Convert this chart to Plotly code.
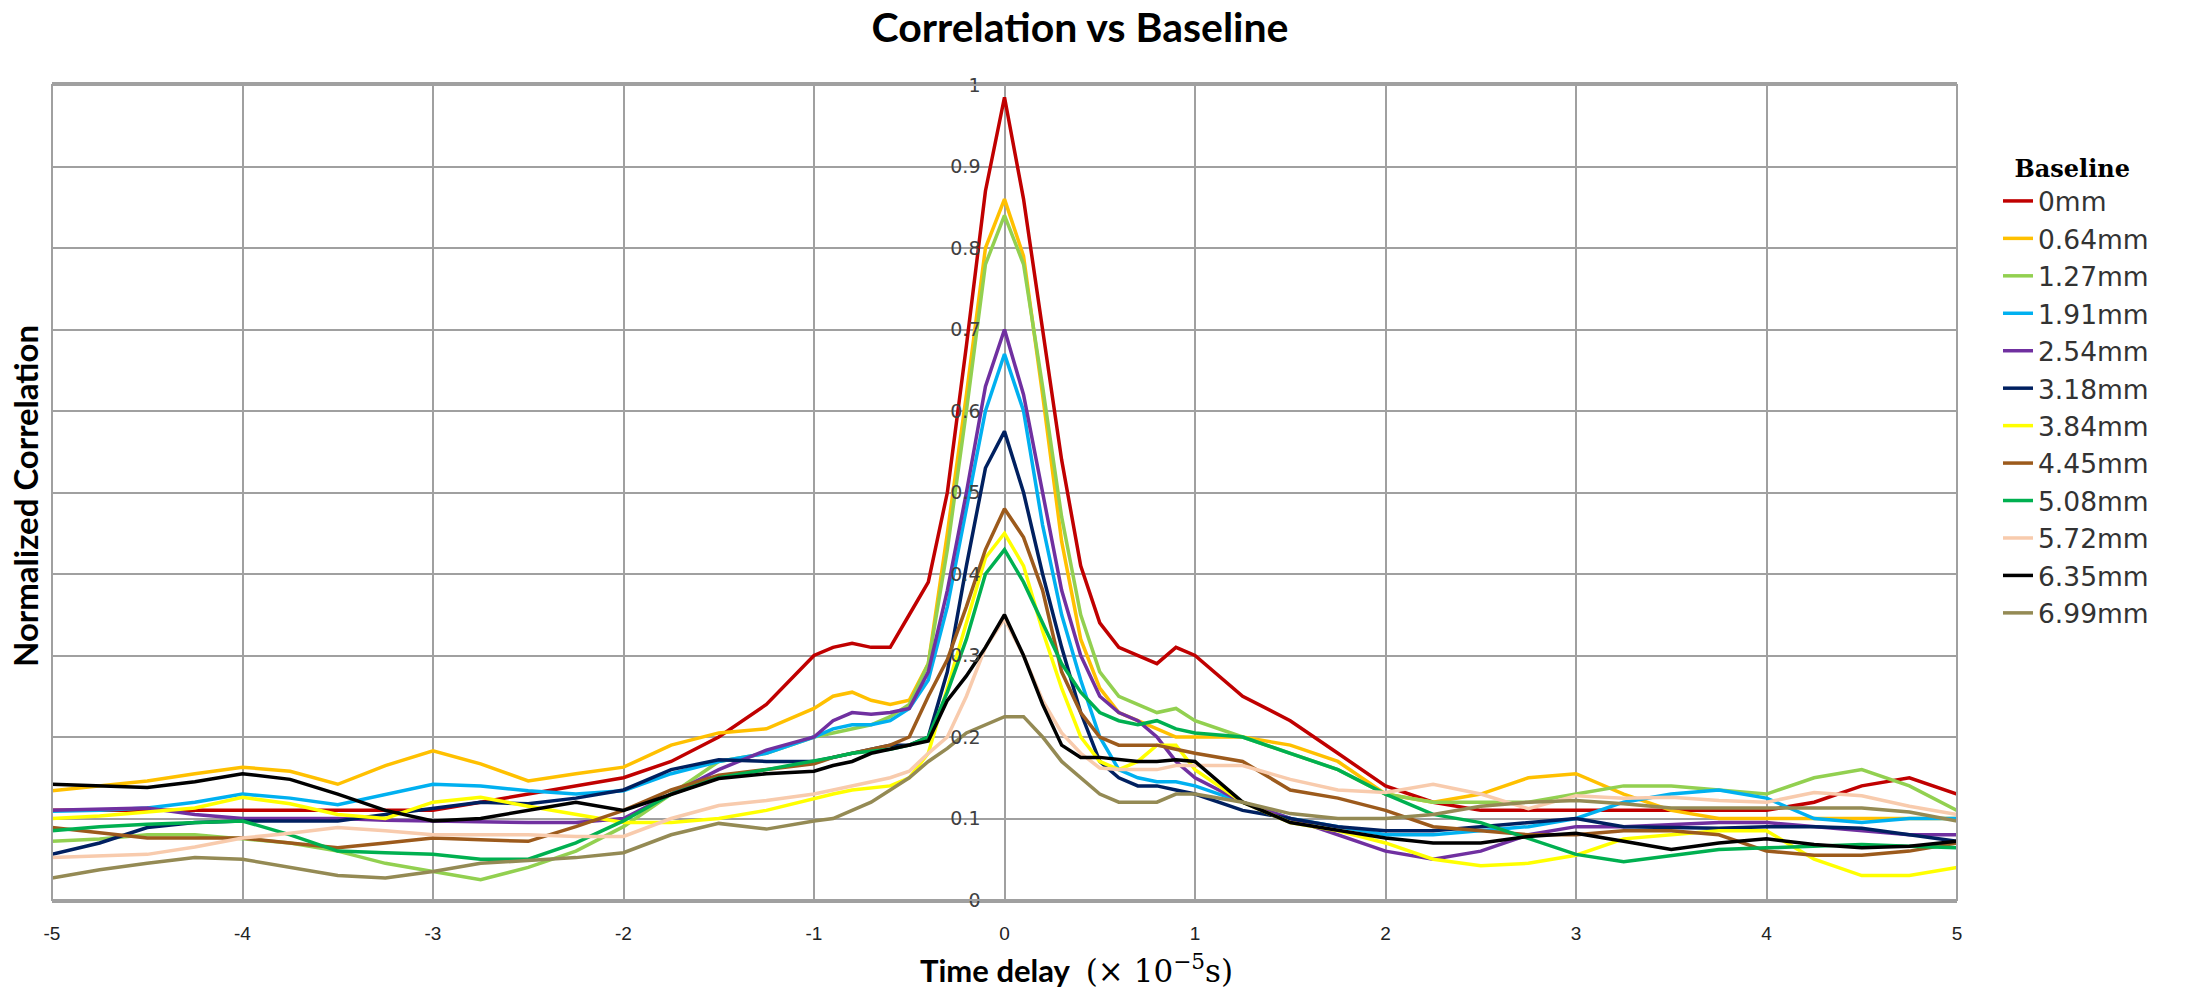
import plotly.graph_objects as go

# ---- data ----
time_delay = [-5, -4.75, -4.5, -4.25, -4, -3.75, -3.5, -3.25, -3, -2.75, -2.5, -2.25, -2, -1.75, -1.5, -1.25, -1,
              -0.9, -0.8, -0.7, -0.6, -0.5, -0.4, -0.3, -0.2, -0.1, 0, 0.1, 0.2, 0.3, 0.4, 0.5, 0.6, 0.7, 0.8, 0.9,
              1, 1.25, 1.5, 1.75, 2, 2.25, 2.5, 2.75, 3, 3.25, 3.5, 3.75, 4, 4.25, 4.5, 4.75, 5]

series_names = ["0mm", "0.64mm", "1.27mm", "1.91mm", "2.54mm", "3.18mm",
                "3.84mm", "4.45mm", "5.08mm", "5.72mm", "6.35mm", "6.99mm"]

corr_0mm = [0.11, 0.11, 0.11, 0.11, 0.11, 0.11, 0.11, 0.11, 0.11, 0.12, 0.13, 0.14, 0.15, 0.17, 0.2, 0.24, 0.3,
            0.31, 0.315, 0.31, 0.31, 0.35, 0.39, 0.5, 0.68, 0.87, 0.985, 0.86, 0.7, 0.54, 0.41, 0.34, 0.31, 0.30, 0.29, 0.31,
            0.30, 0.25, 0.22, 0.18, 0.14, 0.12, 0.11, 0.11, 0.11, 0.11, 0.11, 0.11, 0.11, 0.12, 0.14, 0.15, 0.13]
corr_064mm = [0.134, 0.14, 0.146, 0.155, 0.163, 0.158, 0.142, 0.165, 0.183, 0.167, 0.146, 0.155, 0.163, 0.19, 0.205, 0.21, 0.235,
              0.25, 0.255, 0.245, 0.24, 0.245, 0.29, 0.45, 0.62, 0.8, 0.86, 0.79, 0.62, 0.44, 0.32, 0.26, 0.23, 0.22, 0.21, 0.2,
              0.2, 0.2, 0.19, 0.17, 0.13, 0.12, 0.13, 0.15, 0.155, 0.13, 0.11, 0.1, 0.1, 0.1, 0.1, 0.1, 0.1]
corr_127mm = [0.072, 0.075, 0.08, 0.08, 0.075, 0.07, 0.06, 0.045, 0.035, 0.025, 0.04, 0.06, 0.09, 0.13, 0.17, 0.18, 0.2,
              0.205, 0.21, 0.215, 0.225, 0.24, 0.29, 0.43, 0.6, 0.78, 0.84, 0.78, 0.63, 0.47, 0.35, 0.28, 0.25, 0.24, 0.23, 0.235,
              0.22, 0.2, 0.18, 0.16, 0.13, 0.12, 0.12, 0.12, 0.13, 0.14, 0.14, 0.135, 0.13, 0.15, 0.16, 0.14, 0.11]
corr_191mm = [0.109, 0.11, 0.113, 0.12, 0.13, 0.125, 0.117, 0.13, 0.142, 0.14, 0.134, 0.13, 0.134, 0.155, 0.17, 0.18, 0.2,
              0.21, 0.215, 0.215, 0.22, 0.235, 0.27, 0.36, 0.48, 0.6, 0.67, 0.6, 0.46, 0.35, 0.27, 0.2, 0.16, 0.15, 0.145, 0.145,
              0.14, 0.12, 0.1, 0.09, 0.08, 0.08, 0.085, 0.09, 0.1, 0.12, 0.13, 0.135, 0.125, 0.1, 0.095, 0.1, 0.1]
corr_254mm = [0.11, 0.112, 0.113, 0.105, 0.1, 0.1, 0.1, 0.098, 0.097, 0.095, 0.095, 0.095, 0.1, 0.13, 0.16, 0.184, 0.2,
              0.22, 0.23, 0.228, 0.23, 0.235, 0.28, 0.38, 0.5, 0.63, 0.70, 0.62, 0.5, 0.38, 0.3, 0.25, 0.23, 0.22, 0.2, 0.17,
              0.15, 0.12, 0.1, 0.08, 0.06, 0.05, 0.06, 0.08, 0.09, 0.09, 0.093, 0.095, 0.095, 0.09, 0.085, 0.08, 0.08]
corr_318mm = [0.056, 0.07, 0.089, 0.095, 0.097, 0.097, 0.097, 0.105, 0.113, 0.12, 0.118, 0.125, 0.135, 0.16, 0.172, 0.17, 0.17,
              0.175, 0.18, 0.185, 0.19, 0.19, 0.2, 0.28, 0.41, 0.53, 0.575, 0.5, 0.4, 0.31, 0.23, 0.17, 0.15, 0.14, 0.14, 0.135,
              0.13, 0.11, 0.1, 0.09, 0.085, 0.085, 0.09, 0.095, 0.1, 0.09, 0.089, 0.088, 0.09, 0.09, 0.088, 0.08, 0.072]
corr_384mm = [0.10, 0.103, 0.108, 0.113, 0.126, 0.118, 0.105, 0.1, 0.12, 0.126, 0.115, 0.105, 0.095, 0.095, 0.1, 0.11, 0.125,
              0.13, 0.135, 0.138, 0.14, 0.15, 0.18, 0.26, 0.34, 0.42, 0.45, 0.41, 0.33, 0.26, 0.2, 0.17, 0.16, 0.17, 0.19, 0.19,
              0.16, 0.12, 0.095, 0.085, 0.07, 0.05, 0.042, 0.045, 0.055, 0.075, 0.08, 0.085, 0.085, 0.05, 0.03, 0.03, 0.04]
corr_445mm = [0.089, 0.083, 0.076, 0.076, 0.076, 0.07, 0.064, 0.07, 0.076, 0.074, 0.072, 0.09, 0.11, 0.135, 0.153, 0.16, 0.167,
              0.175, 0.18, 0.185, 0.19, 0.2, 0.25, 0.295, 0.36, 0.43, 0.48, 0.445, 0.38, 0.28, 0.23, 0.2, 0.19, 0.19, 0.19, 0.185,
              0.18, 0.17, 0.135, 0.125, 0.11, 0.09, 0.085, 0.08, 0.08, 0.085, 0.085, 0.08, 0.06, 0.055, 0.055, 0.06, 0.07]
corr_508mm = [0.085, 0.09, 0.093, 0.095, 0.097, 0.08, 0.06, 0.058, 0.056, 0.05, 0.05, 0.07, 0.097, 0.13, 0.15, 0.16, 0.17,
              0.175, 0.18, 0.182, 0.185, 0.19, 0.2, 0.255, 0.32, 0.4, 0.43, 0.39, 0.34, 0.29, 0.255, 0.23, 0.22, 0.215, 0.22, 0.21,
              0.205, 0.2, 0.18, 0.16, 0.13, 0.105, 0.095, 0.075, 0.056, 0.047, 0.055, 0.062, 0.064, 0.066, 0.068, 0.066, 0.064]
corr_572mm = [0.052, 0.054, 0.056, 0.065, 0.076, 0.082, 0.089, 0.085, 0.08, 0.08, 0.08, 0.078, 0.078, 0.1, 0.116, 0.122, 0.13,
              0.135, 0.14, 0.145, 0.15, 0.158, 0.18, 0.2, 0.25, 0.31, 0.345, 0.3, 0.245, 0.205, 0.18, 0.162, 0.16, 0.16, 0.16, 0.165,
              0.165, 0.165, 0.148, 0.135, 0.132, 0.142, 0.13, 0.112, 0.128, 0.125, 0.126, 0.122, 0.12, 0.132, 0.128, 0.115, 0.105]
corr_635mm = [0.142, 0.14, 0.138, 0.145, 0.155, 0.148, 0.13, 0.11, 0.097, 0.1, 0.11, 0.12, 0.11, 0.13, 0.149, 0.155, 0.158,
              0.165, 0.17, 0.18, 0.185, 0.19, 0.195, 0.245, 0.275, 0.31, 0.35, 0.3, 0.24, 0.19, 0.175, 0.175, 0.172, 0.17, 0.17, 0.172,
              0.17, 0.12, 0.095, 0.085, 0.076, 0.07, 0.07, 0.078, 0.082, 0.072, 0.062, 0.07, 0.075, 0.068, 0.064, 0.066, 0.072]
corr_699mm = [0.027, 0.037, 0.045, 0.052, 0.05, 0.04, 0.03, 0.027, 0.035, 0.045, 0.048, 0.052, 0.058, 0.08, 0.094, 0.087, 0.097,
              0.1, 0.11, 0.12, 0.135, 0.15, 0.17, 0.186, 0.205, 0.215, 0.225, 0.225, 0.2, 0.17, 0.15, 0.13, 0.12, 0.12, 0.12, 0.13,
              0.13, 0.12, 0.106, 0.1, 0.1, 0.105, 0.115, 0.12, 0.122, 0.118, 0.113, 0.113, 0.113, 0.113, 0.113, 0.108, 0.097]

series_values = [corr_0mm, corr_064mm, corr_127mm, corr_191mm, corr_254mm, corr_318mm,
                 corr_384mm, corr_445mm, corr_508mm, corr_572mm, corr_635mm, corr_699mm]

x_tick_vals = [-5, -4, -3, -2, -1, 0, 1, 2, 3, 4, 5]
x_tick_labels = ["-5", "-4", "-3", "-2", "-1", "0", "1", "2", "3", "4", "5"]
y_tick_vals = [0, 0.1, 0.2, 0.3, 0.4, 0.5, 0.6, 0.7, 0.8, 0.9, 1]
y_tick_labels = ["0", "0.1", "0.2", "0.3", "0.4", "0.5", "0.6", "0.7", "0.8", "0.9", "1"]

# ---- styles ----
colors = ["#C00000", "#FFC000", "#92D050", "#00B0F0", "#7030A0", "#002060",
          "#FFFF00", "#9C5A1C", "#00B050", "#F8CBAD", "#000000", "#948A54"]
GRID = "#A0A0A0"

fig = go.Figure()
for name, vals, col in zip(series_names, series_values, colors):
    fig.add_trace(go.Scatter(x=time_delay, y=vals, mode="lines", name=name,
                             line=dict(color=col, width=3.5)))

fig.update_layout(
    width=2195, height=996,
    margin=dict(l=52, r=238, t=85, b=96),
    paper_bgcolor="white", plot_bgcolor="white",
    title=dict(text="<b>Correlation vs Baseline</b>", x=1080 / 2195, xanchor="center",
               y=1 - 28 / 996, yanchor="middle",
               font=dict(family="Lato, Open Sans, sans-serif", size=41, color="#000000")),
    xaxis=dict(range=[-5, 5], tickvals=x_tick_vals, ticktext=x_tick_labels,
               showgrid=True, gridcolor=GRID, gridwidth=2, zeroline=False,
               showline=True, linecolor=GRID, linewidth=3, mirror=True,
               ticks="", ticklabelstandoff=14,
               tickfont=dict(family="Liberation Sans Narrow, Liberation Sans, sans-serif", size=19, color="#222222")),
    yaxis=dict(range=[0, 1], tickvals=y_tick_vals, ticktext=y_tick_labels,
               anchor="free", position=0.5,
               showgrid=True, gridcolor=GRID, gridwidth=2, zeroline=False,
               showline=False, ticks="", ticklabelstandoff=24,
               tickfont=dict(family="DejaVu Sans, sans-serif", size=19, color="#404040")),
    legend=dict(x=(1998 - 52) / 1905, xanchor="left", y=(900 - 146) / 815, yanchor="top",
                title=dict(text="<b>Baseline</b> ", side="top center",
                           font=dict(family="DejaVu Serif, Liberation Serif, serif", size=24, color="#000000")),
                font=dict(family="DejaVu Sans, sans-serif", size=26.5, color="#333333"),
                bgcolor="rgba(0,0,0,0)", itemwidth=30),
    showlegend=True,
)

# plot-area border (left/right edges)
fig.add_shape(type="rect", xref="paper", yref="paper", x0=0, x1=1, y0=0, y1=1,
              line=dict(color=GRID, width=2), layer="above")

fig.add_annotation(text="<b>Time delay</b>  <span style='font-family:DejaVu Serif'>(× 10<sup>−5</sup>s)</span>",
                   xref="paper", yref="paper", x=(1076 - 52) / 1905, y=(900 - 969) / 815,
                   xanchor="center", yanchor="middle", showarrow=False,
                   font=dict(family="Lato, Open Sans, sans-serif", size=31, color="#000000"))
fig.add_annotation(text="<b>Normalized Correlation</b>", textangle=-90,
                   xref="paper", yref="paper", x=(25 - 52) / 1905, y=(900 - 496) / 815,
                   xanchor="center", yanchor="middle", showarrow=False,
                   font=dict(family="Lato, Open Sans, sans-serif", size=33, color="#000000"))

fig.write_html("out.html")
